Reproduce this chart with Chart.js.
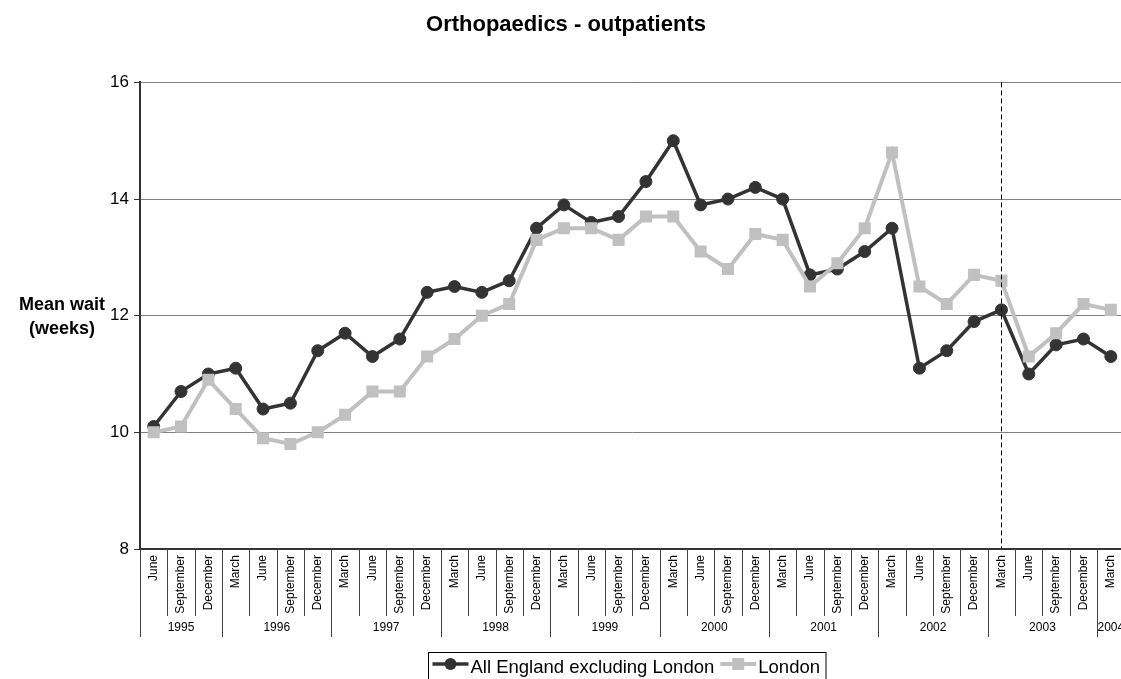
<!DOCTYPE html>
<html>
<head>
<meta charset="utf-8">
<title>Orthopaedics - outpatients</title>
<script src="https://cdn.jsdelivr.net/npm/chart.js@4.4.1/dist/chart.umd.min.js"></script>
<style>
  html, body { margin: 0; padding: 0; background: #fff; overflow: hidden; }
  #waitChart { display: block; }
</style>
</head>
<body>
<canvas id="waitChart" width="1133" height="679"></canvas>
<script>
// quarter-end months and the year each one falls in
const quarters = [
    "June", "September", "December",
    "March", "June", "September", "December",
    "March", "June", "September", "December",
    "March", "June", "September", "December",
    "March", "June", "September", "December",
    "March", "June", "September", "December",
    "March", "June", "September", "December",
    "March", "June", "September", "December",
    "March", "June", "September", "December",
    "March"
];
const quarterYears = [
    1995, 1995, 1995,
    1996, 1996, 1996, 1996,
    1997, 1997, 1997, 1997,
    1998, 1998, 1998, 1998,
    1999, 1999, 1999, 1999,
    2000, 2000, 2000, 2000,
    2001, 2001, 2001, 2001,
    2002, 2002, 2002, 2002,
    2003, 2003, 2003, 2003,
    2004
];

// mean wait in weeks
const englandExLondon = [
    10.1, 10.7, 11.0,
    11.1, 10.4, 10.5, 11.4,
    11.7, 11.3, 11.6, 12.4,
    12.5, 12.4, 12.6, 13.5,
    13.9, 13.6, 13.7, 14.3,
    15.0, 13.9, 14.0, 14.2,
    14.0, 12.7, 12.8, 13.1,
    13.5, 11.1, 11.4, 11.9,
    12.1, 11.0, 11.5, 11.6,
    11.3
];
const london = [
    10.0, 10.1, 10.9,
    10.4, 9.9, 9.8, 10.0,
    10.3, 10.7, 10.7, 11.3,
    11.6, 12.0, 12.2, 13.3,
    13.5, 13.5, 13.3, 13.7,
    13.7, 13.1, 12.8, 13.4,
    13.3, 12.5, 12.9, 13.5,
    14.8, 12.5, 12.2, 12.7,
    12.6, 11.3, 11.7, 12.2,
    12.1
];

const yMin = 8;
const yMax = 16;
const yStep = 2;

// quarter marked with the dashed vertical line
const markedQuarter = { month: "March", year: 2003 };

const FONT = "Arial, 'Liberation Sans', sans-serif";

// year row, separators, dashed marker, y title and legend
const axisDecor = {
    id: "axisDecor",
    afterDraw(chart) {
        const { ctx, chartArea } = chart;
        const x = chart.scales.x;
        const n = quarters.length;
        const edge = (i) => x.getPixelForValue(i - 0.5);
        const bottom = chartArea.bottom;

        ctx.save();

        // separators between months
        ctx.strokeStyle = "#444";
        ctx.lineWidth = 1;
        for (let i = 1; i <= n; i++) {
            const px = Math.round(edge(i)) + 0.5;
            ctx.beginPath();
            ctx.moveTo(px, bottom);
            ctx.lineTo(px, 616);
            ctx.stroke();
        }

        // year groups
        const groups = [];
        quarterYears.forEach((yr, i) => {
            const last = groups[groups.length - 1];
            if (last && last.year === yr) last.end = i;
            else groups.push({ year: yr, start: i, end: i });
        });
        ctx.fillStyle = "#000";
        ctx.font = "12px " + FONT;
        ctx.textAlign = "center";
        ctx.textBaseline = "middle";
        groups.forEach((g) => {
            const px = Math.round(edge(g.start)) + 0.5;
            ctx.beginPath();
            ctx.moveTo(px, bottom);
            ctx.lineTo(px, 637);
            ctx.stroke();
            const mid = (edge(g.start) + edge(g.end + 1)) / 2;
            ctx.fillText(String(g.year), mid, 628);
        });

        // dashed marker line
        const mi = quarters.findIndex((m, i) => m === markedQuarter.month && quarterYears[i] === markedQuarter.year);
        if (mi >= 0) {
            const px = Math.round(x.getPixelForValue(mi)) + 0.5;
            ctx.strokeStyle = "#000";
            ctx.setLineDash([5, 3]);
            ctx.beginPath();
            ctx.moveTo(px, chartArea.top);
            ctx.lineTo(px, bottom);
            ctx.stroke();
            ctx.setLineDash([]);
        }

        // y axis title, kept horizontal
        ctx.font = "bold 18px " + FONT;
        ctx.fillText("Mean wait", 62, 305);
        ctx.fillText("(weeks)", 62, 329);

        // legend
        const ds = chart.data.datasets;
        const boxX = 428.5, boxY = 652.5, lineY = 664;
        ctx.font = "18.5px " + FONT;
        ctx.textAlign = "left";
        ctx.textBaseline = "alphabetic";
        let cx = boxX + 4;
        ds.forEach((d) => {
            ctx.strokeStyle = d.borderColor;
            ctx.lineWidth = d.borderWidth;
            ctx.beginPath();
            ctx.moveTo(cx, lineY);
            ctx.lineTo(cx + 36, lineY);
            ctx.stroke();
            ctx.fillStyle = d.borderColor;
            if (d.pointStyle === "rect") {
                ctx.fillRect(cx + 18 - 6, lineY - 6, 12, 12);
            } else {
                ctx.beginPath();
                ctx.arc(cx + 18, lineY, 6, 0, Math.PI * 2);
                ctx.fill();
            }
            ctx.fillStyle = "#000";
            ctx.fillText(d.label, cx + 38, 673);
            cx += 38 + ctx.measureText(d.label).width + 6;
        });
        ctx.strokeStyle = "#000";
        ctx.lineWidth = 1;
        ctx.strokeRect(boxX, boxY, cx - boxX, 40);

        ctx.restore();
    }
};

document.addEventListener("DOMContentLoaded", function () {
    const ctx = document.getElementById("waitChart").getContext("2d");

    const data = {
        labels: quarters,
        datasets: [
            {
                label: "All England excluding London",
                data: englandExLondon,
                borderColor: "#333333",
                backgroundColor: "#333333",
                borderWidth: 3.5,
                pointStyle: "circle",
                pointRadius: 6,
                pointBorderWidth: 1,
                order: 1,
            },
            {
                label: "London",
                data: london,
                borderColor: "#C0C0C0",
                backgroundColor: "#C0C0C0",
                borderWidth: 4,
                pointStyle: "rect",
                pointRadius: 8.5,
                pointBorderWidth: 0,
                order: 0,
            },
        ],
    };

    const options = {
        responsive: false,
        animation: false,
        layout: { padding: { left: 0, right: 1, top: 0, bottom: 0 } },
        plugins: {
            legend: { display: false },
            tooltip: { enabled: false },
            title: {
                display: true,
                text: "Orthopaedics - outpatients",
                color: "#000",
                font: { family: FONT, size: 22, weight: "bold" },
                padding: { top: 12, bottom: 44 },
            },
        },
        scales: {
            x: {
                type: "category",
                offset: true,
                grid: { display: false },
                border: { display: true, color: "#333", width: 2 },
                ticks: {
                    autoSkip: false,
                    minRotation: 90,
                    maxRotation: 90,
                    padding: -2,
                    color: "#000",
                    font: { family: FONT, size: 12 },
                },
                afterFit(scale) {
                    scale.height = 130;
                },
            },
            y: {
                min: yMin,
                max: yMax,
                ticks: {
                    stepSize: yStep,
                    color: "#000",
                    padding: 5,
                    font: { family: FONT, size: 17 },
                },
                grid: { color: "#808080", lineWidth: 1, tickLength: 6, tickColor: "#333" },
                border: { color: "#333", width: 2 },
                afterFit(scale) {
                    scale.width = 140;
                },
            },
        },
    };

    new Chart(ctx, {
        type: "line",
        data: data,
        options: options,
        plugins: [axisDecor],
    });
});
</script>
</body>
</html>
